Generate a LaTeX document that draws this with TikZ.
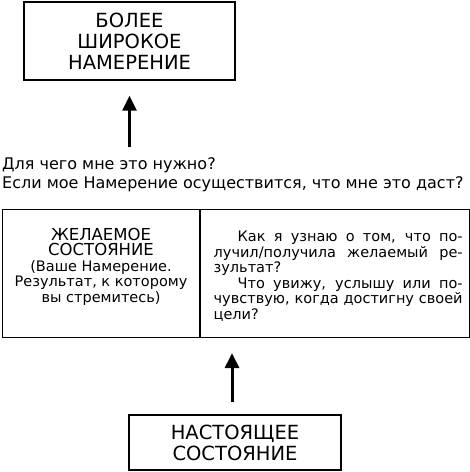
\documentclass[tikz,border=0pt]{standalone}
\usepackage{fontspec}
\setmainfont{DejaVu Sans}
\usetikzlibrary{positioning,arrows.meta}
\newcommand{\capsize}{\fontsize{19.5}{21}\selectfont}
\newcommand{\cellcaps}{\fontsize{16.5}{15.5}\selectfont}
\newcommand{\bodysize}{\fontsize{14.5}{15.5}\selectfont}

\begin{document}
\begin{tikzpicture}[x=1pt,y=-1pt,
    goal/.style={draw,line width=1.3pt,align=center,font=\capsize},
    cell/.style={draw,line width=1.1pt,inner sep=0pt,minimum height=128pt},
    uparrow/.style={line width=3pt,-{Triangle[width=14pt,length=15pt]}}]
    \useasboundingbox (0,0) rectangle (470,472);
    \node[goal,minimum width=211pt,minimum height=78pt] (wider) at (129.5,41)
      {БОЛЕЕ\\ШИРОКОЕ\\НАМЕРЕНИЕ};
    \node[anchor=north west,inner sep=0pt,align=left,font=\fontsize{16}{19}\selectfont] (why) at (2,157)
      {Для чего мне это нужно?\\Если мое Намерение осуществится, что мне это даст?};
    \node[cell,minimum width=197pt,anchor=north west] (desired) at (2,209) {};
    \node[cell,minimum width=269pt,anchor=north west] (check) at (desired.north east) {};
    \node[below=19pt of desired.north,inner sep=0pt,align=center,font=\bodysize] (desiredtext)
      {{\cellcaps ЖЕЛАЕМОЕ}\\{\cellcaps СОСТОЯНИЕ}\\(Ваше Намерение.\\Результат, к которому\\вы стремитесь)};
    \node[below=22pt of check.north,xshift=3pt,inner sep=0pt,text width=249pt,align=justify,font=\bodysize] (checktext)
      {\hspace*{24pt}Как я узнаю о том, что по-\linebreak
        лучил/получила желаемый ре-\linebreak
        зультат?\par
        \hspace*{24pt}Что увижу, услышу или по-\linebreak
        чувствую, когда достигну своей\linebreak
        цели?};
    \node[goal,minimum width=212pt,minimum height=55pt] (current) at (235,442.5)
      {НАСТОЯЩЕЕ\\СОСТОЯНИЕ};
    \draw[uparrow,shorten >=15pt] (wider.south |- why.north) ++(0,-10) -- (wider.south);
    \draw[uparrow,shorten <=12pt,shorten >=15pt] ([xshift=-3pt]current.north) -- ([xshift=-3pt]current.north |- check.south);
\end{tikzpicture}
\end{document}
